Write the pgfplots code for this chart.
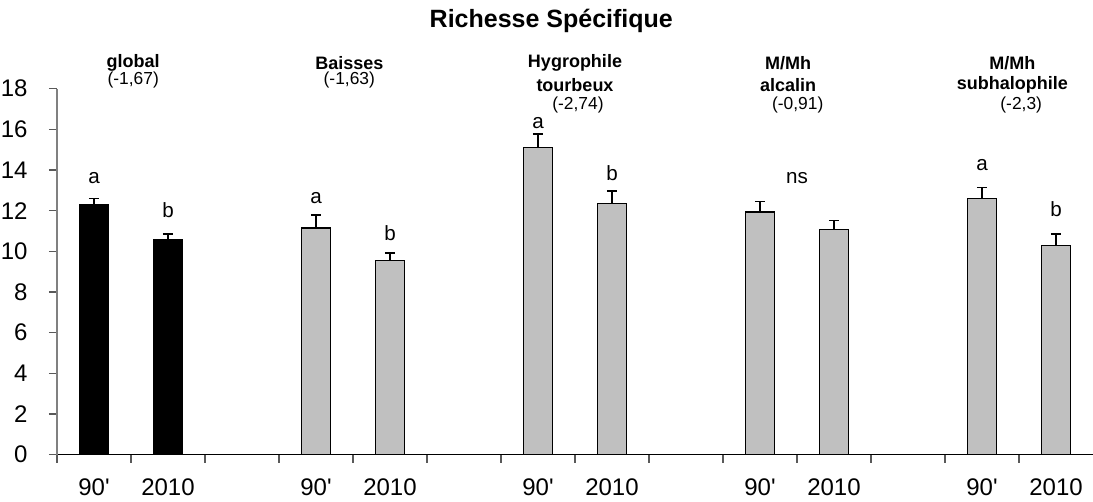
\documentclass[border=0pt]{standalone}
\usepackage{fontspec}
\setmainfont{Liberation Sans}
\usepackage{pgfplots}
\pgfplotsset{compat=1.18}
\definecolor{bargray}{HTML}{C0C0C0}
\newcommand{\grp}{\fontsize{9}{10}\selectfont\bfseries}
\newcommand{\pn}{\fontsize{8.7}{10}\selectfont}
\newcommand{\lt}{\fontsize{10.3}{12}\selectfont}
\begin{document}
\begin{tikzpicture}
\useasboundingbox (-28.5pt,-23.65pt) rectangle (518pt,227.35pt);
\begin{axis}[
  at={(0,0)}, anchor=south west,
  scale only axis, width=518pt, height=183pt,
  xmin=-0.5, xmax=13.5, ymin=0, ymax=18,
  axis lines*=left,
  x axis line style={black, line width=0.8pt},
  y axis line style={gray, line width=0.8pt},
  ytick={0,2,...,18},
  xtick={0,1,3,4,6,7,9,10,12,13},
  xticklabels={90\textquotesingle,2010,90\textquotesingle,2010,90\textquotesingle,2010,90\textquotesingle,2010,90\textquotesingle,2010},
  minor xtick={-0.5,0.5,...,12.5},
  tick align=outside, major tick length=4pt, minor tick length=4pt,
  major x tick style={draw=none},
  y tick style={gray!70!black, line width=0.8pt},
  minor x tick style={gray!70!black, line width=0.8pt},
  ybar, bar width=0.4, bar shift=0pt,
  clip=false,
  /pgf/number format/assume math mode=true,
  ticklabel style={font=\fontsize{12}{14}\selectfont},
  xticklabel style={anchor=center, yshift=-12.5pt},
  yticklabel style={xshift=-7.2pt},
]
\addplot[fill=black, draw=black, line width=0.6pt,
  error bars/.cd, y dir=plus, y explicit,
  error bar style={black, line width=0.8pt},
  error mark options={rotate=90, mark size=2.6pt, line width=0.8pt, black}]
  table[x=x, y=y, y error=e] {
x y e
0 12.30 0.29
1 10.57 0.28
};
\addplot[fill=bargray, draw=black, line width=0.6pt,
  error bars/.cd, y dir=plus, y explicit,
  error bar style={black, line width=0.8pt},
  error mark options={rotate=90, mark size=2.6pt, line width=0.8pt, black}]
  table[x=x, y=y, y error=e] {
x y e
3 11.15 0.63
4 9.54 0.37
6 15.10 0.66
7 12.37 0.60
9 11.94 0.51
10 11.07 0.44
12 12.59 0.56
13 10.27 0.59
};
% significance letters
\node[font=\lt] at (axis cs:0,13.6) {a};
\node[font=\lt] at (axis cs:1,12.03) {b};
\node[font=\lt] at (axis cs:3,12.61) {a};
\node[font=\lt] at (axis cs:4,10.89) {b};
\node[font=\lt] at (axis cs:6,16.33) {a};
\node[font=\lt] at (axis cs:7,13.87) {b};
\node[font=\lt] at (axis cs:9.5,13.6) {ns};
\node[font=\lt] at (axis cs:12,14.25) {a};
\node[font=\lt] at (axis cs:13,12.07) {b};
% group labels
\node at (axis cs:0.53,19.28) {\grp global};
\node at (axis cs:0.53,18.42) {\pn (-1,67)};
\node at (axis cs:3.45,19.28) {\grp Baisses};
\node at (axis cs:3.45,18.42) {\pn (-1,63)};
\node at (axis cs:6.5,19.25) {\grp Hygrophile};
\node at (axis cs:6.5,18.2) {\grp tourbeux};
\node at (axis cs:6.54,17.2) {\pn (-2,74)};
\node at (axis cs:9.38,19.25) {\grp M/Mh};
\node at (axis cs:9.38,18.2) {\grp alcalin};
\node at (axis cs:9.51,17.2) {\pn (-0,91)};
\node at (axis cs:12.41,19.25) {\grp M/Mh};
\node at (axis cs:12.41,18.2) {\grp subhalophile};
\node at (axis cs:12.53,17.2) {\pn (-2,3)};
% title
\node[font=\fontsize{12.5}{15}\selectfont\bfseries] at (axis cs:6.18,21.35) {Richesse Spécifique};
\end{axis}
\end{tikzpicture}
\end{document}
